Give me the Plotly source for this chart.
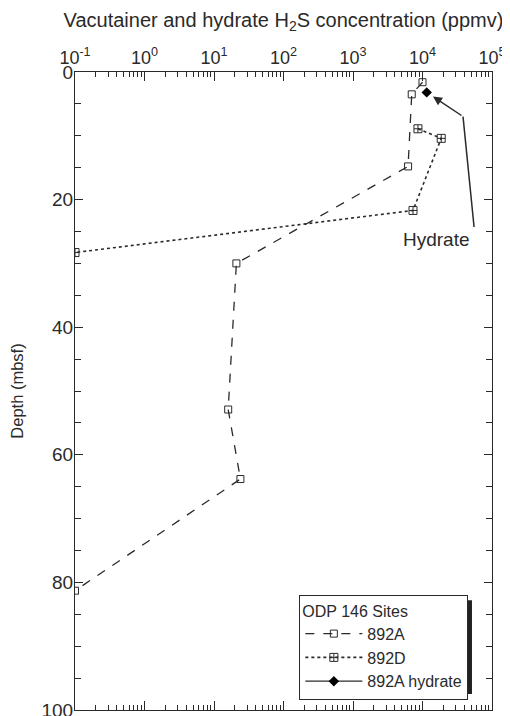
import plotly.graph_objects as go

# Data
a_conc = [10000, 7000, 6200, 21, 16, 24, 0.1]
a_depth = [1.6, 3.5, 14.8, 30.0, 52.9, 63.8, 81.3]

d_conc = [8600, 18600, 7300, 0.1]
d_depth = [8.9, 10.4, 21.7, 28.3]

h_conc = [11500]
h_depth = [3.2]

tick_vals = [0.1, 1, 10, 100, 1000, 10000, 100000]
tick_text = ["10<sup>-1</sup>", "10<sup>0</sup>", "10<sup>1</sup>", "10<sup>2</sup>",
             "10<sup>3</sup>", "10<sup>4</sup>", "10<sup>5</sup>"]
minor_vals = [m * 10.0 ** e for e in range(-1, 5) for m in range(2, 10)]

ink = "#2a2a2a"
font = "Liberation Sans, Arial, sans-serif"

fig = go.Figure()
fig.add_trace(go.Scatter(x=a_conc, y=a_depth, name="892A", mode="lines+markers",
                         line=dict(color=ink, width=1.3, dash="dash"),
                         marker=dict(symbol="square-open", size=7, color=ink, line=dict(width=1))))
fig.add_trace(go.Scatter(x=d_conc, y=d_depth, name="892D", mode="lines+markers",
                         line=dict(color=ink, width=1.6, dash="dot"),
                         marker=dict(symbol="square-cross-open", size=8, color=ink, line=dict(width=1))))
fig.add_trace(go.Scatter(x=h_conc, y=h_depth, name="892A hydrate", mode="lines+markers",
                         line=dict(color=ink, width=1.3),
                         marker=dict(symbol="diamond", size=8, color="black")))

fig.update_xaxes(type="log", range=[-1, 5], side="top", tickvals=tick_vals, ticktext=tick_text,
                 ticks="inside", ticklen=9, tickcolor=ink, showline=True, linecolor=ink, linewidth=1.2,
                 mirror="ticks", showgrid=False, zeroline=False, automargin=False,
                 tickfont=dict(size=18, family=font, color=ink),
                 minor=dict(tickmode="array", tickvals=minor_vals, ticks="inside", ticklen=5,
                            tickcolor=ink, showgrid=False),
                 title=dict(text="Vacutainer and hydrate H<sub>2</sub>S concentration (ppmv)",
                            font=dict(size=20, family=font, color=ink), standoff=12))
fig.update_yaxes(range=[100, 0], tickvals=[0, 20, 40, 60, 80, 100], ticks="inside", ticklen=8,
                 tickcolor=ink, showline=True, linecolor=ink, linewidth=1.2, mirror="ticks",
                 showgrid=False, zeroline=False, automargin=False,
                 ticklabelstandoff=-3, ticklabeloverflow="allow",
                 tickfont=dict(size=19, family=font, color=ink),
                 minor=dict(dtick=5, ticks="inside", ticklen=6, tickcolor=ink, showgrid=False),
                 title=dict(text="Depth (mbsf)", font=dict(size=16.5, family=font, color=ink), standoff=20))

# legend shadow
fig.add_shape(type="rect", xref="paper", yref="paper", x0=0.54, x1=0.952, y0=0.025, y1=0.172,
              fillcolor="#222", line=dict(width=0), layer="above")

fig.add_annotation(xref="paper", yref="paper", x=0.8585, y=0.9616, ax=30, ay=20,
                   text="", showarrow=True, arrowhead=2,
                   arrowsize=1.2, arrowwidth=1.5, arrowcolor=ink)
fig.add_shape(type="line", xref="paper", yref="paper", x0=0.9305, y0=0.930, x1=0.957, y1=0.757,
              line=dict(color=ink, width=1.5))
fig.add_annotation(xref="paper", yref="paper", x=0.868, y=0.737, text="Hydrate", showarrow=False,
                   font=dict(size=19, family=font, color=ink), xanchor="center", yanchor="middle")

fig.update_layout(
    width=502, height=708, margin=dict(l=67, r=18, t=64, b=6),
    paper_bgcolor="white", plot_bgcolor="white",
    legend=dict(x=0.538, y=0.1804, xanchor="left", yanchor="top", bgcolor="white",
                bordercolor=ink, borderwidth=1, font=dict(size=16, family=font, color=ink),
                title=dict(text="ODP 146 Sites", font=dict(size=16, family=font, color=ink)),
                tracegroupgap=0, itemwidth=57),
    showlegend=True,
)

fig.write_html("out.html")
